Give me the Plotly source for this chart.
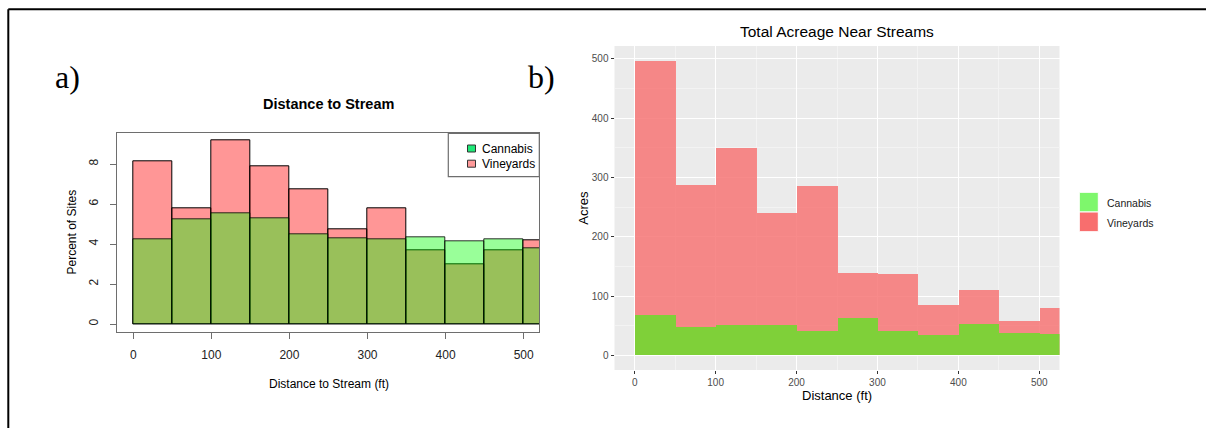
import plotly.graph_objects as go

# ---------------- data ----------------
bin_left = [0, 50, 100, 150, 200, 250, 300, 350, 400, 450, 500]
bin_width = 50

# panel a: percent of sites per distance bin
vine_pct = [8.12, 5.78, 9.17, 7.88, 6.72, 4.73, 5.78, 3.70, 3.00, 3.70, 4.17]
cann_pct = [4.23, 5.23, 5.52, 5.28, 4.50, 4.28, 4.25, 4.33, 4.15, 4.23, 3.78]

# panel b: total acreage per distance bin
vine_acres = [496, 288, 349, 240, 286, 139, 136.5, 85.5, 111, 58, 80]
cann_acres = [67.5, 48.5, 51, 51, 41, 63.5, 41, 33.5, 53, 37.5, 36.5]

x_ticks = [0, 100, 200, 300, 400, 500]
y_ticks_a = [0, 2, 4, 6, 8]
y_ticks_b = [0, 100, 200, 300, 400, 500]

title_a = "Distance to Stream"
title_b = "Total Acreage Near Streams"
series_names = ["Cannabis", "Vineyards"]

# ---------------- geometry helpers ----------------
W, H = 1206, 428


def px(x):
    return x / W


def py(y):
    return 1 - y / H


centers = [b + bin_width / 2 for b in bin_left]
SANS = "Liberation Sans, Arial, sans-serif"
SERIF = "Liberation Serif, Times New Roman, serif"

fig = go.Figure()

# ---- panel a (base-R style) ----
fig.add_trace(go.Bar(
    x=centers, y=vine_pct, width=bin_width, name=series_names[1],
    marker=dict(color="rgba(255,0,0,0.41)", line=dict(color="black", width=1)),
    xaxis="x", yaxis="y", showlegend=False, hoverinfo="skip"))
fig.add_trace(go.Bar(
    x=centers, y=cann_pct, width=bin_width, name=series_names[0],
    marker=dict(color="rgba(0,255,0,0.40)", line=dict(color="rgba(0,0,0,0.8)", width=1)),
    xaxis="x", yaxis="y", showlegend=False, hoverinfo="skip"))

# ---- panel b (ggplot style) ----
fig.add_trace(go.Bar(
    x=centers, y=vine_acres, width=bin_width, name=series_names[1],
    marker=dict(color="rgba(247,117,117,0.85)", line=dict(width=0)),
    xaxis="x2", yaxis="y2", showlegend=False, hoverinfo="skip"))
fig.add_trace(go.Bar(
    x=centers, y=cann_acres, width=bin_width, name=series_names[0],
    marker=dict(color="rgba(116,214,50,0.92)", line=dict(width=0)),
    xaxis="x2", yaxis="y2", showlegend=False, hoverinfo="skip"))

axis_a_common = dict(
    showgrid=False, zeroline=False, showline=True, mirror=True,
    linecolor="#6e6e6e", linewidth=1.3,
    ticks="outside", ticklen=6, tickcolor="#6e6e6e", tickwidth=1,
    tickfont=dict(family=SANS, size=12, color="#222"),
)
axis_b_common = dict(
    showgrid=True, gridcolor="white", gridwidth=1.4, zeroline=False, showline=False,
    ticks="outside", ticklen=3, tickcolor="#333", tickwidth=1,
    tickfont=dict(family=SANS, size=10, color="#4d4d4d"),
)

fig.update_layout(
    width=W, height=H, autosize=False,
    margin=dict(l=0, r=0, t=0, b=0),
    paper_bgcolor="white", plot_bgcolor="white",
    barmode="overlay", bargap=0,
    showlegend=False,
    xaxis=dict(domain=[px(117.3), px(539.3)], range=[-20.5, 520],
               tickvals=x_ticks, ticklabelstandoff=6, **axis_a_common),
    yaxis=dict(domain=[py(331.7), py(133.3)], range=[-0.385, 9.535],
               tickvals=y_ticks_a, tickangle=-90, ticklabelstandoff=7, **axis_a_common),
    xaxis2=dict(domain=[px(614.5), px(1059.5)], range=[-25, 525],
                tickvals=x_ticks, anchor="y2",
                minor=dict(showgrid=True, gridcolor="#f3f3f3", gridwidth=0.8, dtick=50, tick0=0),
                **axis_b_common),
    yaxis2=dict(domain=[py(370), py(46)], range=[-24.8, 521.8],
                tickvals=y_ticks_b, anchor="x2",
                minor=dict(showgrid=True, gridcolor="#f3f3f3", gridwidth=0.8, dtick=50, tick0=0),
                **axis_b_common),
)

shapes = [
    # gray ggplot panel background
    dict(type="rect", xref="x2 domain", yref="y2 domain", x0=0, x1=1, y0=0, y1=1,
         fillcolor="#ebebeb", line=dict(width=0), layer="below"),
    # outer frame
    dict(type="line", xref="paper", yref="paper", x0=px(8.3), x1=1.0, y0=py(9.3), y1=py(9.3),
         line=dict(color="black", width=2)),
    dict(type="line", xref="paper", yref="paper", x0=px(8.3), x1=px(8.3), y0=py(9.3), y1=0,
         line=dict(color="black", width=2)),
    # panel a legend box
    dict(type="rect", xref="paper", yref="paper", x0=px(448.3), x1=px(539.3),
         y0=py(176.7), y1=py(133.3), line=dict(color="#6e6e6e", width=1.2), fillcolor="white"),
    dict(type="rect", xref="paper", yref="paper", x0=px(467.5), x1=px(475.5),
         y0=py(152.0), y1=py(145.0), line=dict(color="#333", width=1), fillcolor="#1fe978"),
    dict(type="rect", xref="paper", yref="paper", x0=px(467.5), x1=px(475.5),
         y0=py(167.2), y1=py(160.2), line=dict(color="#333", width=1), fillcolor="#ff9a9a"),
    # panel b legend keys
    dict(type="rect", xref="paper", yref="paper", x0=px(1079.3), x1=px(1098.3),
         y0=py(212.0), y1=py(192.3), line=dict(color="white", width=1), fillcolor="#7ef76c"),
    dict(type="rect", xref="paper", yref="paper", x0=px(1079.3), x1=px(1098.3),
         y0=py(231.7), y1=py(212.0), line=dict(color="white", width=1), fillcolor="#f86e6e"),
]
fig.update_layout(shapes=shapes)


def ann(text, x, y, size, family=SANS, color="black", xanchor="center", yanchor="middle",
        angle=0):
    return dict(text=text, x=px(x), y=py(y), xref="paper", yref="paper",
                showarrow=False, xanchor=xanchor, yanchor=yanchor, textangle=angle,
                font=dict(family=family, size=size, color=color))


annotations = [
    ann("a)", 67, 77, 32, family=SERIF),
    ann("b)", 541.5, 77, 32, family=SERIF),
    ann("<b>" + title_a + "</b>", 328.3, 104, 14.5),
    ann("Percent of Sites", 71, 232.5, 12, angle=-90),
    ann("Distance to Stream (ft)", 328.8, 383.5, 12),
    ann(series_names[0], 479.5, 148.5, 12, xanchor="left"),
    ann(series_names[1], 479.5, 163.7, 12, xanchor="left"),
    ann(title_b, 837, 31.5, 15.5),
    ann("Acres", 582.7, 208, 13, angle=-90),
    ann("Distance (ft)", 837, 395, 13),
    ann(series_names[0], 1104.5, 203.3, 10.5, color="#1a1a1a", xanchor="left"),
    ann(series_names[1], 1104.5, 223.3, 10.5, color="#1a1a1a", xanchor="left"),
]
fig.update_layout(annotations=annotations)

fig.write_html(
    "out.html",
    config={"displayModeBar": False},
    post_script="document.body.style.margin='0';document.body.style.overflow='hidden';",
)
